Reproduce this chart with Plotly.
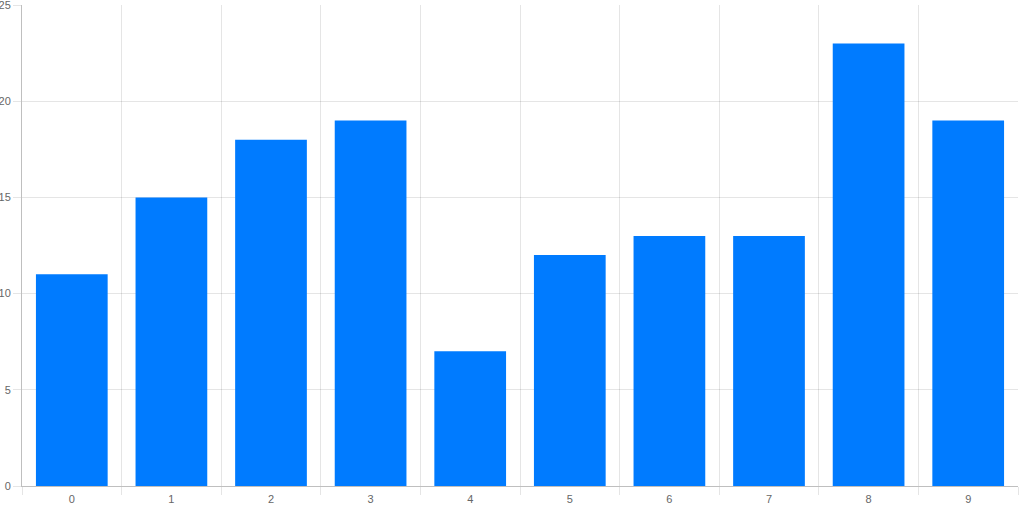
import plotly.graph_objects as go

categories = ["0", "1", "2", "3", "4", "5", "6", "7", "8", "9"]
values = [11, 15, 18, 19, 7, 12, 13, 13, 23, 19]

BAR_COLOUR = "#007bff"
GRID = "rgba(0,0,0,0.1)"
AXIS = "rgba(0,0,0,0.25)"
TICK_FONT = {"family": "Arial, Liberation Sans, sans-serif", "size": 11, "color": "#666666"}

fig = go.Figure(
    go.Bar(
        x=categories,
        y=values,
        marker={"color": BAR_COLOUR, "line": {"width": 0}},
    )
)

fig.update_layout(
    width=1024,
    height=512,
    margin={"l": 22, "r": 6, "t": 5, "b": 26, "autoexpand": False},
    paper_bgcolor="white",
    plot_bgcolor="white",
    bargap=0.28,
    showlegend=False,
    font=TICK_FONT,
)

fig.update_xaxes(
    type="category",
    tickson="boundaries",
    ticks="outside",
    ticklen=8,
    tickcolor=GRID,
    tickfont=TICK_FONT,
    ticklabelstandoff=3,
    showgrid=True,
    gridcolor=GRID,
    gridwidth=1,
    showline=True,
    linecolor=AXIS,
    linewidth=1,
    zeroline=False,
    automargin=False,
)

fig.update_yaxes(
    range=[0, 25],
    dtick=5,
    ticks="outside",
    ticklen=8,
    tickcolor=GRID,
    tickfont=TICK_FONT,
    ticklabeloverflow="allow",
    showgrid=True,
    gridcolor=GRID,
    gridwidth=1,
    showline=True,
    linecolor=AXIS,
    linewidth=1,
    zeroline=False,
    automargin=False,
)

# drop the browser's default body margin so the chart sits at the page corner
fig.write_html(
    "out.html",
    config={"displayModeBar": False},
    post_script="document.body.style.margin = '0';",
)
